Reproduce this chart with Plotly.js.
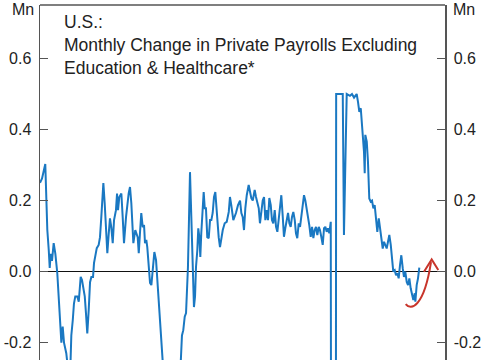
<!DOCTYPE html>
<html>
<head>
<meta charset="utf-8">
<script src="https://cdn.plot.ly/plotly-3.0.1.min.js"></script>
<style>
html,body{margin:0;padding:0;background:#fff;overflow:hidden;}
#chart{width:485px;height:360px;}
</style>
</head>
<body>
<div id="chart"></div>
<script>
// Month index (months since Jan 2000) of each reading
const monthIdx = [
  0,1.7,4.4,5.0,6.1,7.3,8.1,8.9,10.0,11.4,
  12.8,14.4,15.8,17.3,17.8,18.9,20.0,21.9,23.9,25.3,
  26.1,27.3,28.3,29.4,31.1,32.3,32.8,33.9,35.0,36.1,
  37.3,38.3,39.4,40.6,41.7,42.8,44.2,45.0,46.1,47.3,
  48.9,50.0,51.1,52.8,53.9,55.0,56.1,57.3,58.3,59.4,
  60.6,61.7,63.3,64.2,65.0,66.1,67.8,68.9,70.0,71.7,
  72.8,73.9,75.0,76.1,77.8,79.4,81.4,82.3,83.3,84.4,
  85.6,86.7,87.5,88.6,89.4,90.6,91.7,92.8,93.9,95.3,
  96.7,97.8,98.9,100.0,101.1,102.3,103.3,106.7,110.0,113.3,
  116.3,117.3,118.3,119.4,120.6,121.7,122.5,123.3,124.2,125.0,
  126.1,127.3,128.3,129.2,130.0,131.1,131.9,132.8,133.6,134.4,
  135.6,136.4,137.3,138.3,139.4,140.6,141.7,142.8,143.9,145.0,
  146.1,147.3,148.9,150.0,151.1,152.3,153.9,155.6,157.3,158.3,
  159.4,161.1,163.3,165.0,166.7,167.8,168.9,170.0,171.1,172.3,
  173.9,175.0,176.1,177.3,178.9,180.0,181.1,182.3,183.3,184.4,
  185.6,186.7,187.8,188.9,190.0,191.1,192.3,193.3,194.4,195.6,
  196.7,197.8,198.9,200.0,201.1,202.3,203.3,204.4,205.6,206.7,
  207.8,208.9,210.0,211.1,212.3,213.3,214.4,215.6,216.7,217.8,
  218.9,220.0,221.1,222.3,223.3,224.4,225.6,226.7,227.8,228.9,
  230.0,231.1,232.3,233.3,234.4,235.6,236.7,237.8,238.9,240.0,
  241.1,242.3,243.5,246.0,246.8,252.3,253.3,255.6,258.3,260.0,
  261.7,263.9,265.0,266.1,267.3,267.8,269.0,270.0,270.6,271.1,
  272.3,273.3,274.4,275.6,276.7,277.8,278.9,280.0,281.1,282.3,
  283.3,284.4,285.6,286.7,287.8,288.9,290.0,291.1,292.3,293.3,
  294.4,295.6,296.7,297.8,298.9,300.0,301.1,302.3,303.3,304.4,
  305.6,306.7,307.8,308.9,310.0,311.1,312.3,312.8,313.9,315.0,
  316.1
];
// Monthly change in private payrolls excl. education & healthcare, Mn (capped at 0.5)
const payrollsMn = [
  0.250,0.262,0.303,0.200,0.117,0.060,0.010,0.050,0.030,0.080,
  0.050,-0.004,-0.090,-0.180,-0.200,-0.155,-0.200,-0.230,-0.290,-0.270,
  -0.180,-0.137,-0.090,-0.070,-0.070,-0.085,-0.052,-0.015,-0.024,-0.044,
  -0.070,-0.117,-0.174,-0.108,-0.030,-0.015,-0.015,0.024,0.050,0.066,
  0.075,0.097,0.154,0.249,0.193,0.108,0.052,0.108,0.150,0.125,
  0.080,0.145,0.173,0.220,0.173,0.210,0.220,0.154,0.080,0.154,
  0.200,0.220,0.238,0.193,0.080,0.117,0.097,0.052,0.108,0.165,
  0.125,0.131,0.080,0.089,0.069,0.024,-0.032,-0.038,0.013,0.055,
  0.032,-0.032,-0.108,-0.180,-0.230,-0.270,-0.400,-0.600,-0.650,-0.550,
  -0.350,-0.270,-0.180,-0.165,-0.127,-0.117,-0.052,0.013,0.154,0.280,
  0.154,0.013,-0.100,-0.070,0.013,0.060,0.122,0.097,0.041,0.108,
  0.173,0.224,0.178,0.178,0.097,0.094,0.145,0.145,0.165,0.210,
  0.224,0.154,0.097,0.069,0.097,0.117,0.136,0.140,0.168,0.210,
  0.187,0.145,0.165,0.187,0.200,0.165,0.154,0.117,0.178,0.215,
  0.244,0.220,0.207,0.200,0.230,0.210,0.193,0.178,0.136,0.173,
  0.200,0.210,0.145,0.173,0.145,0.207,0.187,0.145,0.136,0.173,
  0.126,0.112,0.154,0.182,0.215,0.154,0.098,0.122,0.150,0.165,
  0.136,0.126,0.154,0.168,0.145,0.108,0.094,0.136,0.126,0.154,
  0.197,0.215,0.200,0.178,0.154,0.131,0.098,0.126,0.094,0.117,
  0.126,0.103,0.126,0.117,0.098,0.075,0.122,0.126,0.112,0.122,
  0.108,0.140,-3.000,-3.000,0.500,0.500,0.103,0.500,0.495,0.500,
  0.490,0.500,0.478,0.450,0.460,0.436,0.394,0.337,0.277,0.385,
  0.366,0.310,0.206,0.197,0.200,0.178,0.187,0.140,0.112,0.150,
  0.122,0.089,0.065,0.084,0.075,0.065,0.084,0.103,0.075,0.037,
  0.000,0.004,-0.010,-0.005,-0.019,0.018,0.046,0.009,-0.015,0.000,
  -0.029,-0.038,-0.019,-0.047,-0.066,-0.080,-0.061,-0.085,-0.038,-0.019,
  0.011
];
const tickVals = [-0.2, 0.0, 0.2, 0.4, 0.6];
const tickLabels = ['-0.2', '0.0', '0.2', '0.4', '0.6'];
const unitLabel = 'Mn';
const titleLines = ['U.S.:', 'Monthly Change in Private Payrolls Excluding', 'Education &amp; Healthcare*'];

const FONT = 'Liberation Sans, Arial, Helvetica, sans-serif';
const yRange = [-0.249, 0.7507];
const xRange = [0, 337.5];

const axisCommon = {
  range: yRange,
  tickvals: tickVals,
  ticktext: tickLabels,
  ticks: 'inside',
  ticklen: 8,
  tickwidth: 1,
  tickcolor: '#555',
  showline: true,
  linecolor: '#555',
  linewidth: 1.5,
  showgrid: false,
  tickfont: {family: FONT, size: 16, color: '#222'},
  ticklabelstandoff: 4,
  fixedrange: true
};

const data = [
  {
    x: monthIdx,
    y: payrollsMn,
    type: 'scatter',
    mode: 'lines',
    line: {color: '#1a78c2', width: 2},
    hoverinfo: 'skip',
    showlegend: false
  },
  {
    x: [], y: [], type: 'scatter', mode: 'lines', yaxis: 'y2', showlegend: false, hoverinfo: 'skip'
  }
];

const layout = {
  width: 485,
  height: 360,
  margin: {l: 40, r: 40, t: 5, b: 0, pad: 0},
  paper_bgcolor: '#fff',
  plot_bgcolor: '#fff',
  showlegend: false,
  xaxis: {
    range: xRange,
    showline: false,
    showgrid: false,
    zeroline: false,
    showticklabels: false,
    ticks: '',
    fixedrange: true
  },
  yaxis: Object.assign({}, axisCommon, {
    side: 'left',
    zeroline: true,
    zerolinecolor: '#111',
    zerolinewidth: 1.5
  }),
  yaxis2: Object.assign({}, axisCommon, {
    side: 'right',
    overlaying: 'y',
    zeroline: false
  }),
  shapes: [
    {type: 'line', xref: 'paper', yref: 'paper', x0: 0, x1: 1, y0: 1, y1: 1,
     line: {color: '#555', width: 1.5}},
    {type: 'path', xref: 'x', yref: 'y',
     path: 'M 304.75 -0.0915 C 309.17 -0.111, 320 -0.100, 325.83 0.0268',
     line: {color: '#c8352b', width: 2}},
    {type: 'path', xref: 'x', yref: 'y',
     path: 'M 320 -0.0006 L 326.4 0.0344 L 331.9 0.0042',
     line: {color: '#c8352b', width: 2}}
  ],
  annotations: [
    {xref: 'paper', yref: 'paper', x: -0.041, y: 0.986, xanchor: 'center', yanchor: 'middle',
     text: unitLabel, showarrow: false, font: {family: FONT, size: 16, color: '#222'}},
    {xref: 'paper', yref: 'paper', x: 1.047, y: 0.986, xanchor: 'center', yanchor: 'middle',
     text: unitLabel, showarrow: false, font: {family: FONT, size: 16, color: '#222'}},
    {xref: 'paper', yref: 'paper', x: 0.054, y: 0.985, xanchor: 'left', yanchor: 'top',
     align: 'left', text: titleLines.join('<br>'), showarrow: false,
     font: {family: FONT, size: 17.5, color: '#222'}}
  ]
};

Plotly.newPlot('chart', data, layout, {displayModeBar: false, staticPlot: true});
</script>
</body>
</html>
